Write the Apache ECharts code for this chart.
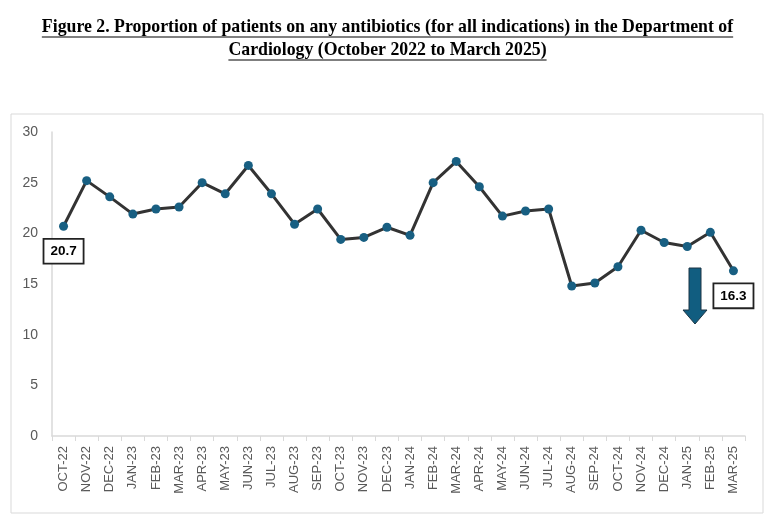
<!DOCTYPE html>
<html><head><meta charset="utf-8">
<script src="https://cdn.jsdelivr.net/npm/echarts@6/dist/echarts.min.js"></script>
<style>html,body{margin:0;padding:0;background:#fff}#c{width:775px;height:523px}</style>
</head><body><div id="c"></div>
<script>
const months = ['OCT-22','NOV-22','DEC-22','JAN-23','FEB-23','MAR-23','APR-23','MAY-23','JUN-23','JUL-23','AUG-23','SEP-23','OCT-23','NOV-23','DEC-23','JAN-24','FEB-24','MAR-24','APR-24','MAY-24','JUN-24','JUL-24','AUG-24','SEP-24','OCT-24','NOV-24','DEC-24','JAN-25','FEB-25','MAR-25'];
const proportion = [20.7,25.2,23.6,21.9,22.4,22.6,25.0,23.9,26.7,23.9,20.9,22.4,19.4,19.6,20.6,19.8,25.0,27.1,24.6,21.7,22.2,22.4,14.8,15.1,16.7,20.3,19.1,18.7,20.1,16.3];
const yTicks = {min:0, max:30, interval:5};
const labelled = [0, proportion.length-1];
const titleLines = ['Figure 2. Proportion of patients on any antibiotics (for all indications) in the Department of','Cardiology (October 2022 to March 2025)'];

const chart = echarts.init(document.getElementById('c'));
const titleFont = 'bold 17.8px "Liberation Serif", serif';
const ctx = document.createElement('canvas').getContext('2d');
ctx.font = titleFont;
const titleY = [27, 50];
const graphics = [
  {type:'rect',shape:{x:11,y:114,width:752,height:399},style:{fill:'none',stroke:'#d9d9d9',lineWidth:1},z:-1},
  {type:'polygon',shape:{points:[[689,268],[701,268],[701,310],[707,310],[695,324],[683,310],[689,310]]},
    style:{fill:'#115d80',stroke:'#1c3544',lineWidth:1}}
];
titleLines.forEach((t,i)=>{
  const w = ctx.measureText(t).width;
  graphics.push({type:'text',x:387.5,y:titleY[i],style:{text:t,font:titleFont,fill:'#000',align:'center',verticalAlign:'middle'}});
  graphics.push({type:'line',shape:{x1:387.5-w/2,y1:titleY[i]+10,x2:387.5+w/2,y2:titleY[i]+10},style:{stroke:'#000',lineWidth:1.2}});
});
chart.setOption({
  animation:false,
  grid:{left:52,right:30,top:132,bottom:87},
  xAxis:{type:'category',data:months,boundaryGap:true,
    axisLine:{lineStyle:{color:'#d9d9d9',width:1.5}},
    axisTick:{show:true,length:5,lineStyle:{color:'#d9d9d9'}},
    axisLabel:{rotate:90,color:'#595959',fontSize:13,fontFamily:'Liberation Sans, Arial',margin:10,interval:0}},
  yAxis:{type:'value',min:yTicks.min,max:yTicks.max,interval:yTicks.interval,
    axisLine:{show:true,lineStyle:{color:'#d9d9d9',width:1.5}},
    axisTick:{show:false},splitLine:{show:false},
    axisLabel:{color:'#595959',fontSize:14,fontFamily:'Liberation Sans, Arial',margin:14}},
  series:[{type:'line',data:proportion.map((v,i)=>labelled.includes(i)?{value:v,label:{show:true}}:v),
    symbol:'circle',symbolSize:9,
    itemStyle:{color:'#185f82'},
    lineStyle:{color:'#333333',width:3},
    label:{show:false,position:'bottom',distance:9,color:'#000',fontWeight:'bold',fontSize:13.5,
      fontFamily:'Liberation Sans, Arial',backgroundColor:'#fff',borderColor:'#222',borderWidth:1.8,
      padding:[5,6,4,6],formatter:p=>p.value.toFixed(1)}}],
  graphic:graphics
});
</script></body></html>
